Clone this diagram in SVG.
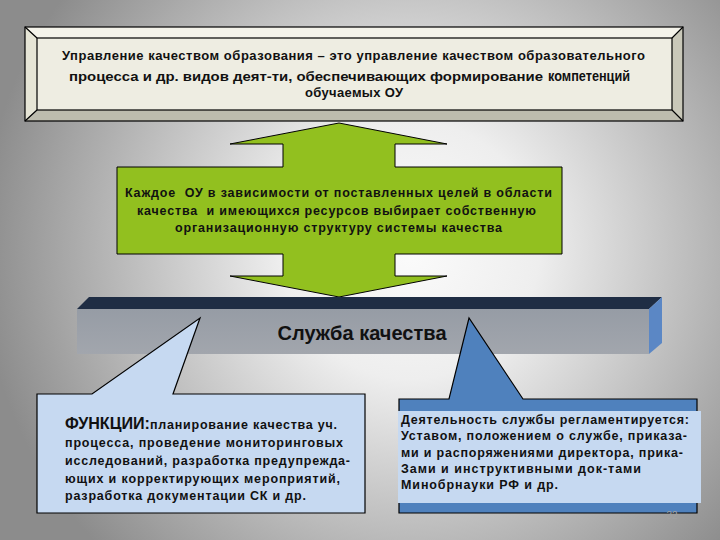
<svg xmlns="http://www.w3.org/2000/svg" width="720" height="540" viewBox="0 0 720 540">
<defs>
<radialGradient id="bg" gradientUnits="userSpaceOnUse" cx="410" cy="250" r="430">
<stop offset="0" stop-color="#fbfbfb"/>
<stop offset="0.3" stop-color="#eeeeee"/>
<stop offset="1" stop-color="#8c8c8c"/>
</radialGradient>
<linearGradient id="front" x1="0" y1="0" x2="0" y2="1">
<stop offset="0" stop-color="#969ca5"/>
<stop offset="1" stop-color="#a2a6ad"/>
</linearGradient>
<style>
.t{font-family:"Liberation Sans",Arial,sans-serif;font-weight:bold;fill:#111;}
.ln{stroke:#000;stroke-width:1.2;fill:none;}
</style>
</defs>
<rect x="0" y="0" width="720" height="540" fill="url(#bg)"/>

<g id="definition">
<polygon points="25,27 683,27 672,38 37,38" fill="#f4f3ea"/>
<polygon points="25,27 37,38 37,110 25,121" fill="#e6e5d6"/>
<polygon points="25,121 37,110 672,110 683,121" fill="#bdbcae"/>
<polygon points="683,27 683,121 672,110 672,38" fill="#c9c8b9"/>
<rect x="37" y="38" width="635" height="72" fill="#eeede2"/>
<rect x="25" y="27" width="658" height="94" class="ln"/>
<rect x="37" y="38" width="635" height="72" class="ln"/>
<path d="M25,27 L37,38 M683,27 L672,38 M25,121 L37,110 M683,121 L672,110" class="ln"/>
<text class="t" x="62" y="60" font-size="13" textLength="583" lengthAdjust="spacing">Управление качеством образования – это управление качеством образовательного</text>
<text class="t" x="69" y="81" font-size="13" textLength="474" lengthAdjust="spacingAndGlyphs">процесса и др. видов деят-ти, обеспечивающих формирование</text>
<text class="t" x="548" y="81" font-size="15" textLength="82" lengthAdjust="spacingAndGlyphs">компетенций</text>
<text class="t" x="305" y="97" font-size="13" textLength="98" lengthAdjust="spacing">обучаемых ОУ</text>
</g>

<g id="choice-arrow">
<polygon points="339,123 447,144 395,144 395,167 562,167 562,254 395,254 395,276 447,276 339,297 230,276 283,276 283,254 117,254 117,167 283,167 283,144 230,144" fill="#92c01f" stroke="#000" stroke-width="1"/>
<text class="t" x="125" y="197" font-size="12.5" textLength="427" lengthAdjust="spacing">Каждое&#160; ОУ в зависимости от поставленных целей в области</text>
<text class="t" x="137" y="215" font-size="12.5" textLength="399" lengthAdjust="spacing">качества&#160; и имеющихся ресурсов выбирает собственную</text>
<text class="t" x="175" y="232" font-size="12.5" textLength="327" lengthAdjust="spacing">организационную структуру системы качества</text>
</g>

<g id="quality-service">
<polygon points="77,309 89,297 662,297 649,309" fill="#1f2d44"/>
<rect x="77" y="309" width="572" height="45" fill="url(#front)"/>
<polygon points="649,309 662,297 662,343 649,354" fill="#5b87c5"/>
<text class="t" x="362" y="340" font-size="20" text-anchor="middle" textLength="169" lengthAdjust="spacing">Служба качества</text>
</g>

<g id="functions">
<path d="M37,394 L92,394 L200,318 L173,394 L365,394 L365,513 L37,513 Z" fill="#c6d9f1" stroke="#000" stroke-width="1.2"/>
<text class="t" x="65" y="429" font-size="16.5" textLength="85" lengthAdjust="spacingAndGlyphs">ФУНКЦИИ:</text>
<text class="t" x="150" y="429" font-size="12.5" textLength="187" lengthAdjust="spacing">планирование качества уч.</text>
<text class="t" x="65" y="447" font-size="12.5" textLength="278" lengthAdjust="spacing">процесса, проведение мониторинговых</text>
<text class="t" x="65" y="465" font-size="12.5" textLength="285" lengthAdjust="spacing">исследований, разработка предупрежда-</text>
<text class="t" x="65" y="483" font-size="12.5" textLength="275" lengthAdjust="spacing">ющих и корректирующих мероприятий,</text>
<text class="t" x="65" y="500" font-size="12.5" textLength="241" lengthAdjust="spacing">разработка документации СК и др.</text>
</g>

<g id="regulation">
<path d="M399,399 L449,399 L469,318 L523,399 L697,399 L697,513 L399,513 Z" fill="#4f81bd" stroke="#000" stroke-width="1.2"/>
<rect x="398" y="411" width="303" height="92" fill="#c6d9f1"/>
<text class="t" x="401" y="424" font-size="12.5" textLength="288" lengthAdjust="spacing">Деятельность службы регламентируется:</text>
<text class="t" x="401" y="440" font-size="12.5" textLength="286" lengthAdjust="spacing">Уставом, положением о службе, приказа-</text>
<text class="t" x="401" y="457" font-size="12.5" textLength="282" lengthAdjust="spacing">ми и распоряжениями директора, прика-</text>
<text class="t" x="401" y="473" font-size="12.5" textLength="240" lengthAdjust="spacing">Зами и инструктивными док-тами</text>
<text class="t" x="401" y="489" font-size="12.5" textLength="157" lengthAdjust="spacing">Минобрнауки РФ и др.</text>
</g>

<text x="672" y="519" font-family="Liberation Sans, Arial, sans-serif" font-size="10" fill="#a2a2a2" text-anchor="middle">32</text>
</svg>
